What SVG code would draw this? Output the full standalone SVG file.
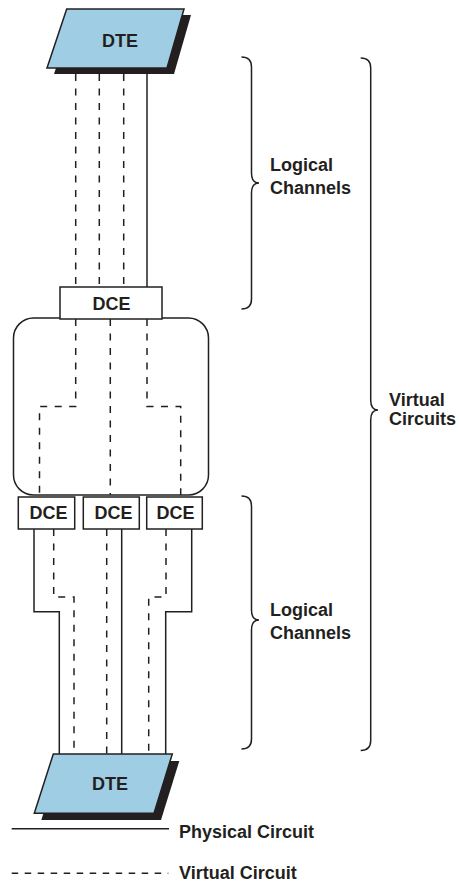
<svg xmlns="http://www.w3.org/2000/svg" width="459" height="884" viewBox="0 0 459 884">
<style>
text{font-family:"Liberation Sans",Arial,sans-serif;font-weight:bold;fill:#231f20}
.lbl{font-size:18px}
.nt{font-size:18px;text-anchor:middle}
.dte{fill:#9ecde4;stroke:#231f20;stroke-width:1.5}
.sh{fill:#231f20}
.box{fill:#fff;stroke:#231f20;stroke-width:1.5}
.s{fill:none;stroke:#231f20;stroke-width:1.5}
.d{fill:none;stroke:#231f20;stroke-width:1.5;stroke-dasharray:7 7.5}
.br{fill:none;stroke:#231f20;stroke-width:1.5}
</style>
<rect width="459" height="884" fill="#fff"/>
<g id="connectors">
<path class="d" d="M75.7 74V287M99.3 74V287M123.7 74V287"/>
<path class="s" d="M147 74V287"/>
<path class="d" d="M53.7 529V597H74V754M106.7 529V754M166 529V597H148.7V754"/>
<path class="s" d="M34 529V611.7H59.3V754M121.7 529V754M191.7 529V611.7H165.7V754"/>
</g>
<g id="network">
<rect class="box" x="13.5" y="318" width="195" height="177" rx="20"/>
<path class="d" d="M75.7 319V406.5H39.5V495M110.3 319V495M147 319V406.5H180.7V495"/>
</g>
<g id="dte-top">
<polygon class="sh" points="73.7,15 191,15 174,74 54,74"/>
<polygon class="dte" points="66.7,9 184,9 167,68 47,68"/>
<text class="nt" x="120" y="47">DTE</text>
</g>
<g id="dce-top">
<rect class="box" x="60" y="287" width="102" height="32"/>
<text class="nt" x="111.5" y="309.5">DCE</text>
</g>
<g id="dce-1">
<rect class="box" x="18.3" y="497" width="56.4" height="32"/>
<text class="nt" x="48.5" y="519">DCE</text>
</g>
<g id="dce-2">
<rect class="box" x="83.3" y="497" width="56" height="32"/>
<text class="nt" x="113.5" y="519">DCE</text>
</g>
<g id="dce-3">
<rect class="box" x="146.7" y="497" width="55.6" height="32"/>
<text class="nt" x="175.5" y="519">DCE</text>
</g>
<g id="dte-bottom">
<polygon class="sh" points="60.3,761 179.3,761 161,820 41.3,820"/>
<polygon class="dte" points="53.3,754 172.3,754 154,813.3 34.3,813.3"/>
<text class="nt" x="110" y="790">DTE</text>
</g>
<g id="brace-logical-top">
<path class="br" d="M241.5 57Q251.5 57 251.5 67V173Q251.5 183 259 183Q251.5 183 251.5 193V299Q251.5 309 241.5 309"/>
<text class="lbl" x="270" y="171">Logical</text>
<text class="lbl" x="270" y="194">Channels</text>
</g>
<g id="brace-virtual">
<path class="br" d="M360.7 58Q370.7 58 370.7 68V400Q370.7 410 378 410Q370.7 410 370.7 420V740.5Q370.7 750.5 360.7 750.5"/>
<text class="lbl" x="389" y="406">Virtual</text>
<text class="lbl" x="389" y="425">Circuits</text>
</g>
<g id="brace-logical-bottom">
<path class="br" d="M241.5 496Q251.5 496 251.5 506V610Q251.5 620 259 620Q251.5 620 251.5 630V739Q251.5 749 241.5 749"/>
<text class="lbl" x="270" y="616">Logical</text>
<text class="lbl" x="270" y="639">Channels</text>
</g>
<g id="legend">
<path class="s" d="M11.7 828.7H169"/>
<path class="d" d="M11.7 873.3H168.3" style="stroke-dasharray:6.5 6.5"/>
<text class="lbl" x="179" y="837.5">Physical Circuit</text>
<text class="lbl" x="179" y="879">Virtual Circuit</text>
</g>
</svg>
